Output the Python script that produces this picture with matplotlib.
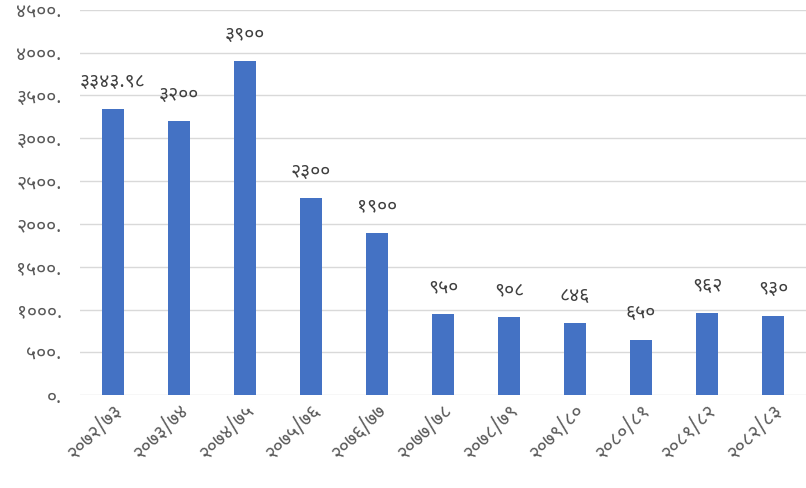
import matplotlib
matplotlib.use("Agg")
import matplotlib.pyplot as plt
from matplotlib import font_manager
import numpy as np

years = ["२०७२/७३", "२०७३/७४", "२०७४/७५", "२०७५/७६", "२०७६/७७", "२०७७/७८",
         "२०७८/७९", "२०७९/८०", "२०८०/८१", "२०८१/८२", "२०८२/८३"]
values = [3343.98, 3200, 3900, 2300, 1900, 950, 908, 846, 650, 962, 930]
value_labels = ["३३४३.९८", "३२००", "३९००", "२३००", "१९००", "९५०", "९०८",
                "८४६", "६५०", "९६२", "९३०"]
yticks = [0, 500, 1000, 1500, 2000, 2500, 3000, 3500, 4000, 4500]
ytick_labels = ["०.", "५००.", "१०००.", "१५००.", "२०००.", "२५००.", "३०००.",
                "३५००.", "४०००.", "४५००."]

# pick a devanagari font that is installed
installed = {f.name for f in font_manager.fontManager.ttflist}
preferred = ["Noto Sans Devanagari", "Hind", "Mukta", "Amiko", "FreeSans"]
dev_font = next((n for n in preferred if n in installed), None)
plt.rcParams["font.family"] = ([dev_font] if dev_font else []) + ["DejaVu Sans"]

fig = plt.figure(figsize=(8.06, 4.88), dpi=100)
ax = fig.add_axes([0.099, 0.19, 0.901, 0.79])

x = np.arange(len(years))
ax.bar(x, values, width=0.34, color="#4472C4", zorder=3)

for xi, v, lab in zip(x, values, value_labels):
    ax.annotate(lab, (xi, v), xytext=(0, 12), textcoords="offset points",
                ha="center", va="bottom", fontsize=14, color="#404040")

ax.set_ylim(0, 4500)
ax.set_xlim(-0.5, len(years) - 0.5)
ax.set_yticks(yticks)
ax.set_yticklabels(ytick_labels, fontsize=14, color="#595959")
ax.set_xticks(x)
ax.set_xticklabels(years, rotation=45, ha="right", rotation_mode="anchor",
                   fontsize=14, color="#595959")
ax.yaxis.grid(True, color="#d9d9d9", linewidth=1, zorder=0)
ax.tick_params(axis="both", length=0)
ax.tick_params(axis="y", pad=13)
ax.tick_params(axis="x", pad=4)
for s in ax.spines.values():
    s.set_visible(False)

fig.savefig("out.png", dpi=100)
